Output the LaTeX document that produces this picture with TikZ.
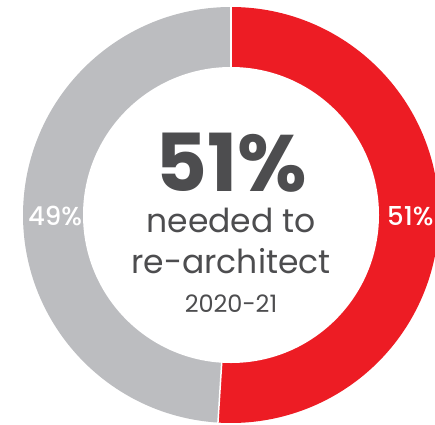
\documentclass[tikz,border=0pt]{standalone}
\usepackage{fontspec}
\setmainfont{Poppins}
\newfontfamily\medfont{Poppins Medium}
\usepackage{xcolor}
\definecolor{chartred}{HTML}{ED1C24}
\definecolor{chartgray}{HTML}{BCBDC0}
\definecolor{textgray}{HTML}{4D4D4F}

\begin{document}
\begin{tikzpicture}[x=1pt,y=1pt,
  big/.style={text=textgray,font=\fontsize{80}{80}\selectfont\bfseries,inner sep=0pt,text depth=0pt,anchor=base},
  mid/.style={text=textgray,font=\fontsize{33}{33}\selectfont,inner sep=0pt,anchor=base},
  small/.style={text=textgray,font=\fontsize{24}{24}\selectfont,inner sep=0pt,anchor=base},
  share/.style={text=white,font=\fontsize{26}{26}\medfont,inner sep=0pt}]
\useasboundingbox (0,0) rectangle (435,424);
\coordinate (c) at (231,209);
% ring
\fill [chartred] (c) -- ++(90:208) arc (90:-93.6:208) -- cycle;
\fill [chartgray] (c) -- ++(-93.6:208) arc (-93.6:-270:208) -- cycle;
\draw [white,line width=1.5] (c) -- ++(90:210);
\draw [white,line width=1.5] (c) -- ++(-93.6:210);
\fill [white] (c) circle (148);
% labels
\node [big] (pct) at (231,233) {51\%};
\node [mid,text height=22pt] (need) at (231,192) {needed to};
\node [mid,text height=22pt] (rearch) at (231,151) {re-architect};
\node [small] (year) at (231,112) {2020-21};
\node [share,anchor=base] (gray) at (55,199) {49\%};
\node [share,anchor=base west] (red) at (387,199) {51\%};
\end{tikzpicture}
\end{document}
